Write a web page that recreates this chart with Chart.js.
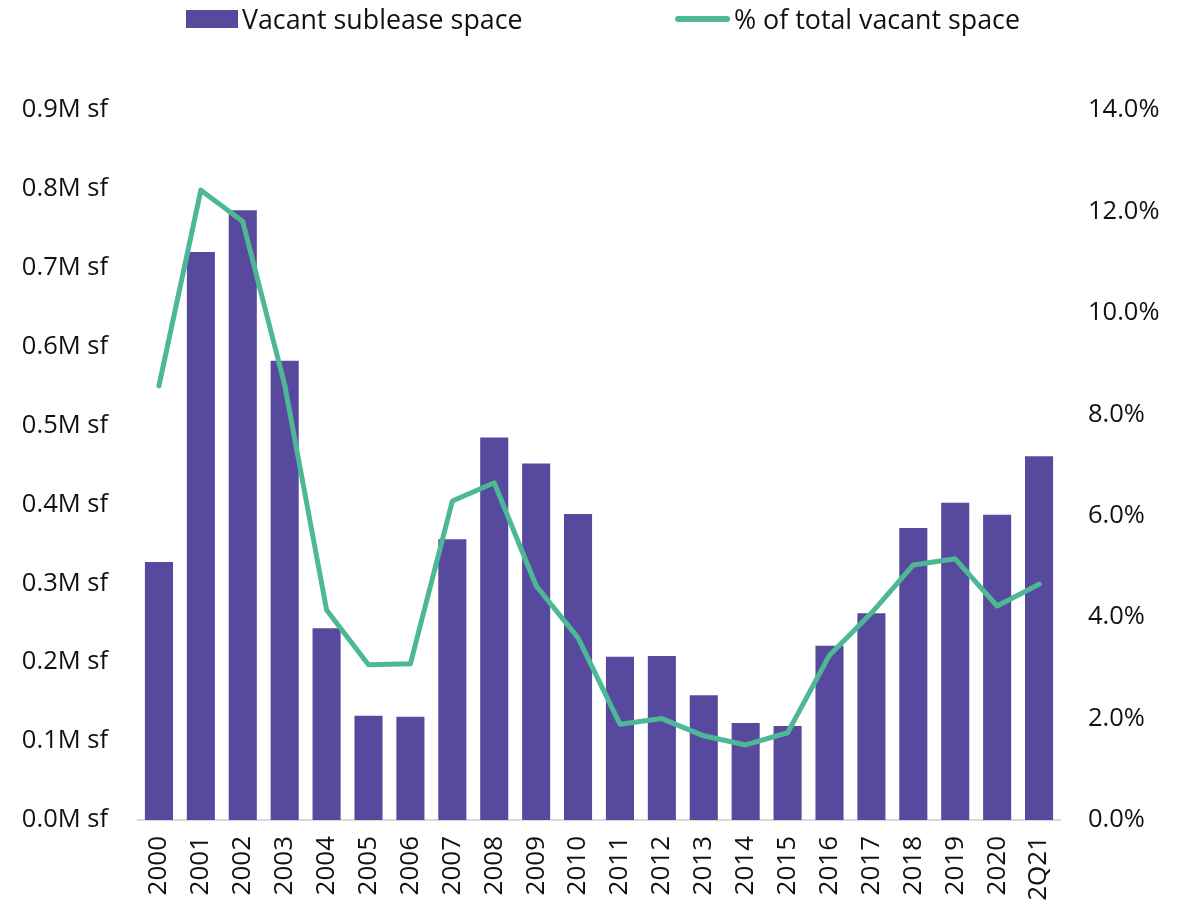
<!DOCTYPE html>
<html>
<head>
<meta charset="utf-8">
<script src="https://cdn.jsdelivr.net/npm/chart.js@4.4.0/dist/chart.umd.min.js"></script>
<style>
  html, body { margin: 0; padding: 0; background: #fff; }
  #wrap { position: relative; width: 1193px; height: 907px; font-family: 'Open Sans', sans-serif; }
  #legend { position: absolute; top: 0; left: 0; width: 1193px; height: 40px; font-size: 26.8px; color: #111; }
  .lg-item { position: absolute; top: 0px; display: flex; align-items: center; white-space: nowrap; }
  .lg-box { width: 52px; height: 18px; background: #574A9E; margin-right: 4px; }
  .lg-line { width: 55px; height: 6px; border-radius: 3px; background: #4DB896; margin-right: 4px; }
</style>
</head>
<body>
<div id="wrap">
  <canvas id="chart" width="1193" height="907"></canvas>
  <div id="legend">
    <div class="lg-item" style="left:186px"><span class="lg-box"></span>Vacant sublease space</div>
    <div class="lg-item" style="left:675px"><span class="lg-line"></span>% of total vacant space</div>
  </div>
</div>
<script>
const years = ['2000', '2001', '2002', '2003', '2004', '2005', '2006', '2007', '2008', '2009', '2010',
  '2011', '2012', '2013', '2014', '2015', '2016', '2017', '2018', '2019', '2020', '2Q21'];

// vacant sublease space, million sf
const subleaseSpace = [0.327, 0.720, 0.773, 0.582, 0.243, 0.132, 0.131, 0.356, 0.485, 0.452, 0.388,
  0.207, 0.208, 0.158, 0.123, 0.119, 0.221, 0.262, 0.370, 0.402, 0.387, 0.461];

// share of total vacant space, %
const pctOfVacant = [8.56, 12.42, 11.80, 8.58, 4.14, 3.06, 3.08, 6.29, 6.65, 4.62, 3.59,
  1.89, 2.00, 1.66, 1.48, 1.72, 3.25, 4.08, 5.03, 5.15, 4.22, 4.65];

Chart.defaults.font.family = "'Open Sans', sans-serif";
Chart.defaults.color = '#111';

new Chart(document.getElementById('chart'), {
  type: 'bar',
  data: {
    labels: years,
    datasets: [
      {
        type: 'line',
        label: '% of total vacant space',
        data: pctOfVacant,
        yAxisID: 'yPct',
        borderColor: '#4DB896',
        borderWidth: 5,
        borderCapStyle: 'round',
        borderJoinStyle: 'round',
        pointRadius: 0,
        tension: 0,
        order: 0
      },
      {
        label: 'Vacant sublease space',
        data: subleaseSpace,
        yAxisID: 'ySf',
        backgroundColor: '#574A9E',
        barPercentage: 0.67,
        categoryPercentage: 1,
        order: 1
      }
    ]
  },
  options: {
    responsive: false,
    animation: false,
    layout: { padding: { top: 110, bottom: 0, left: 0, right: 0 } },
    plugins: { legend: { display: false }, tooltip: { enabled: false } },
    scales: {
      x: {
        grid: { display: false, drawTicks: false },
        border: { color: '#D9D9D9', width: 2 },
        ticks: { font: { size: 26 }, maxRotation: 90, minRotation: 90, padding: 16 },
        afterFit(s) { s.height = 87; }
      },
      ySf: {
        position: 'left',
        min: 0, max: 0.9,
        grid: { display: false, drawTicks: false },
        border: { display: false },
        ticks: {
          stepSize: 0.1, padding: 30, font: { size: 25.5 },
          callback: v => v.toFixed(1) + 'M sf'
        },
        afterFit(s) { s.width = 138; }
      },
      yPct: {
        position: 'right',
        min: 0, max: 14,
        grid: { display: false, drawTicks: false },
        border: { display: false },
        ticks: {
          stepSize: 2, padding: 28, font: { size: 25.5 },
          callback: v => v.toFixed(1) + '%'
        },
        afterFit(s) { s.width = 133; }
      }
    }
  }
});
</script>
</body>
</html>
